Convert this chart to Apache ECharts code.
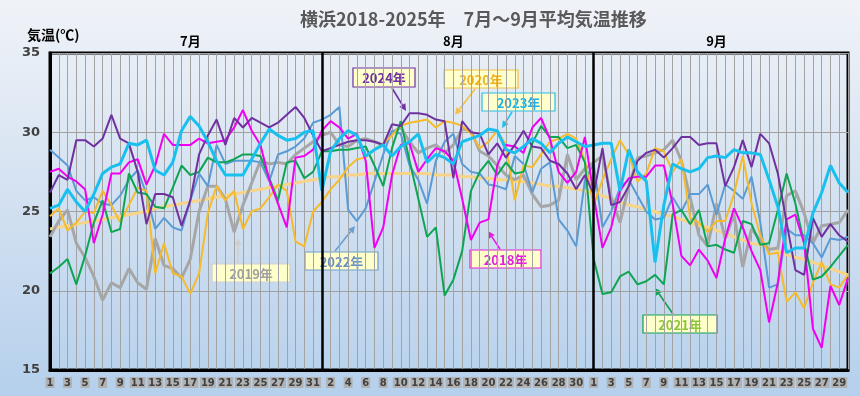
<!DOCTYPE html>
<html lang="ja">
<head>
<meta charset="UTF-8">
<title>横浜 7月～9月平均気温推移</title>
<script src="https://cdn.jsdelivr.net/npm/echarts@6/dist/echarts.min.js"></script>
<style>
  html, body { margin: 0; padding: 0; }
  #chart { width: 860px; height: 396px; }
</style>
</head>
<body>
<div id="chart"></div>
<script>
// categories: 7/1 .. 9/30
const months = [['7', 31], ['8', 31], ['9', 30]];
const dates = [];
months.forEach(([m, n]) => { for (let d = 1; d <= n; d++) dates.push(m + '/' + d); });

// daily mean temperature (℃), Jul | Aug | Sep
const t2018 = [
  27.5, 27.7, 27.2, 26.9, 26.4, 23.0, 24.8, 27.4, 27.4, 28.1, 28.3, 26.7, 27.9, 29.9, 29.2, 29.2,
  29.2, 29.6, 29.3, 29.4, 29.5, 30.3, 31.4, 30.1, 29.2, 27.0, 25.5, 24.0, 28.4, 28.5, 28.9,
  30.1, 30.7, 30.3, 29.6, 29.9, 28.2, 22.7, 24.0, 27.3, 29.2, 29.3, 27.5, 28.3, 29.0, 28.8, 28.2,
  25.8, 23.2, 24.3, 24.5, 27.9, 29.2, 29.1, 28.7, 30.3, 30.9, 29.6, 27.5, 26.8, 27.5, 29.7,
  26.0, 22.7, 24.0, 26.3, 27.1, 27.2, 27.2, 27.9, 27.9, 25.5, 22.2, 21.6, 22.6, 21.9, 20.8,
  23.3, 25.2, 24.0, 22.5, 21.3, 18.0, 20.5, 24.5, 24.8, 23.0, 17.6, 16.4, 20.3, 19.1, 20.8
];
const t2019 = [
  23.4, 24.4, 25.1, 23.0, 22.1, 20.9, 19.4, 20.5, 20.2, 21.4, 20.5, 20.1, 23.3, 21.6, 21.4, 20.8,
  22.0, 25.0, 26.6, 26.6, 25.8, 23.7, 25.4, 26.8, 28.2, 28.0, 28.1, 28.0, 28.6, 29.0, 29.4,
  29.8, 30.0, 29.2, 29.1, 29.5, 29.6, 29.4, 29.2, 30.0, 30.3, 29.4, 28.7, 29.0, 29.2, 28.7, 29.2,
  30.2, 30.1, 28.8, 28.5, 27.9, 27.3, 27.0, 27.3, 26.1, 25.3, 25.4, 25.7, 28.6, 27.0, 27.7,
  28.1, 28.5, 25.9, 24.3, 26.6, 28.4, 28.5, 28.7, 28.9, 29.5, 28.2, 25.9, 23.5, 22.8, 25.5,
  23.3, 24.8, 21.5, 23.9, 23.2, 22.6, 22.7, 26.0, 26.3, 24.9, 23.0, 24.1, 24.2, 24.3, 25.1
];
const t2020 = [
  24.7, 25.2, 23.8, 24.3, 25.0, 24.9, 26.3, 25.4, 24.3, 25.4, 26.5, 26.3, 21.1, 23.0, 21.1, 20.9,
  19.8, 21.1, 24.9, 26.6, 25.7, 26.3, 23.9, 25.0, 25.2, 25.9, 26.7, 26.3, 23.1, 22.8, 25.0,
  25.6, 26.4, 27.0, 27.8, 28.3, 28.4, 28.9, 29.3, 29.8, 30.4, 30.6, 30.7, 30.8, 30.3, 30.7, 30.6,
  30.4, 29.9, 29.0, 29.4, 30.1, 29.2, 25.7, 27.9, 27.8, 28.6, 29.4, 29.6, 29.9, 29.6, 28.2,
  25.4, 27.0, 28.3, 29.5, 28.6, 26.9, 27.4, 29.0, 28.8, 27.5, 28.3, 24.6, 24.3, 23.7, 24.4,
  24.4, 26.1, 28.5, 25.5, 23.5, 22.3, 22.4, 19.3, 19.9, 18.9, 20.5, 21.8, 20.4, 20.2, 21.0
];
const t2021 = [
  21.1, 21.5, 22.0, 20.4, 22.2, 24.3, 25.7, 23.7, 23.9, 27.4, 26.2, 26.1, 25.3, 25.2, 26.5, 27.9,
  27.3, 27.5, 28.4, 28.1, 28.1, 28.3, 28.6, 28.6, 28.5, 27.1, 25.7, 28.1, 28.2, 27.1, 27.5,
  28.8, 28.8, 28.9, 28.9, 29.0, 29.1, 27.9, 26.6, 29.0, 30.7, 28.2, 25.8, 23.4, 24.0, 19.7, 20.7,
  22.5, 26.3, 27.5, 28.2, 27.3, 28.1, 27.4, 27.5, 29.3, 30.4, 29.7, 29.7, 29.0, 29.2, 28.1,
  22.0, 19.8, 19.9, 20.9, 21.2, 20.4, 20.6, 21.0, 20.4, 24.8, 25.1, 24.2, 25.1, 22.8, 22.9,
  22.6, 22.4, 24.4, 24.2, 22.9, 23.0, 25.1, 27.4, 25.5, 23.0, 20.7, 20.9, 21.5, 22.2, 22.9
];
const t2022 = [
  28.9, 28.4, 27.9, 26.3, 25.7, 25.9, 25.5, 25.4, 26.0, 27.0, 27.6, 26.1, 23.9, 24.6, 24.0, 23.8,
  25.7, 27.4, 26.6, 29.2, 28.0, 28.2, 28.2, 28.2, 28.1, 26.9, 28.6, 28.8, 29.1, 29.6, 30.6,
  30.8, 31.1, 31.6, 25.1, 24.4, 25.2, 26.9, 28.6, 30.1, 29.9, 27.9, 27.0, 25.5, 28.2, 29.4, 29.9,
  28.0, 27.5, 27.4, 26.7, 26.6, 26.4, 28.5, 28.0, 26.2, 27.7, 28.1, 24.5, 23.8, 22.8, 27.0,
  28.0, 24.0, 25.0, 26.5, 27.0, 26.0, 25.0, 24.5, 24.6, 25.9, 25.0, 26.1, 26.1, 26.7, 24.8,
  26.7, 26.3, 25.8, 27.2, 24.3, 20.2, 20.4, 23.9, 23.5, 23.5, 23.0, 22.1, 23.3, 23.2, 23.4
];
const t2023 = [
  25.2, 25.4, 26.4, 25.6, 25.0, 26.1, 27.4, 27.8, 28.0, 29.3, 29.2, 29.5, 27.6, 27.3, 28.1, 30.1,
  31.0, 30.4, 29.4, 28.2, 27.3, 27.3, 27.3, 28.3, 29.3, 30.2, 29.8, 29.5, 29.6, 30.0, 30.1,
  26.3, 28.8, 29.6, 30.1, 29.8, 28.5, 28.9, 29.2, 28.5, 29.1, 29.4, 29.9, 28.1, 28.6, 28.4, 28.0,
  29.4, 29.6, 29.8, 30.2, 30.1, 28.9, 28.7, 29.1, 29.6, 29.3, 28.7, 29.3, 29.7, 29.4, 29.1,
  29.2, 29.3, 29.3, 26.3, 28.9, 27.5, 26.9, 21.8, 25.4, 28.0, 27.7, 27.5, 27.7, 28.4, 28.5,
  28.4, 28.9, 28.7, 28.7, 28.6, 27.0, 25.3, 22.4, 22.7, 22.7, 24.9, 26.2, 27.9, 26.8, 26.2
];
const t2024 = [
  26.2, 27.3, 27.0, 29.5, 29.5, 29.1, 29.6, 31.1, 29.6, 29.3, 27.5, 24.2, 26.1, 26.1, 25.9, 24.1,
  25.7, 28.6, 29.8, 30.8, 29.2, 30.9, 30.3, 30.9, 30.6, 30.3, 30.6, 31.1, 31.6, 30.9, 29.8,
  28.8, 29.0, 29.2, 29.4, 29.5, 29.5, 29.4, 29.2, 30.5, 30.4, 31.2, 31.2, 31.1, 30.8, 30.7, 27.1,
  30.7, 30.0, 29.9, 28.6, 29.3, 28.4, 29.2, 30.1, 29.1, 29.0, 28.2, 28.0, 27.4, 26.4, 27.3,
  26.1, 29.0, 25.4, 25.6, 26.6, 28.2, 28.7, 28.9, 28.4, 29.0, 29.7, 29.7, 29.2, 29.3, 29.3,
  26.6, 27.8, 29.5, 27.8, 29.9, 29.3, 27.4, 24.3, 21.3, 21.0, 24.6, 23.4, 24.2, 23.5, 23.1
];
// normal (平年値) curve
const normal = [
  23.9, 24.0, 24.1, 24.2, 24.3, 24.4, 24.5, 24.6, 24.7, 24.8, 24.9, 25.0, 25.2, 25.3, 25.4, 25.5,
  25.6, 25.7, 25.8, 25.9, 26.0, 26.1, 26.2, 26.3, 26.4, 26.5, 26.6, 26.7, 26.8, 26.9, 27.0,
  27.1, 27.2, 27.2, 27.3, 27.3, 27.4, 27.4, 27.4, 27.4, 27.4, 27.4, 27.4, 27.4, 27.3, 27.3, 27.3,
  27.2, 27.2, 27.1, 27.1, 27.0, 27.0, 26.9, 26.9, 26.8, 26.7, 26.6, 26.6, 26.5, 26.4, 26.3,
  26.1, 26.0, 25.8, 25.6, 25.4, 25.3, 25.1, 25.0, 24.8, 24.7, 24.5, 24.3, 24.1, 24.0, 23.8,
  23.6, 23.4, 23.2, 23.0, 22.9, 22.7, 22.5, 22.3, 22.1, 22.0, 21.8, 21.6, 21.4, 21.2, 21.0
];

const monthStarts = ['8/1', '9/1'];
const monthLabelAt = [16, 46, 76];

// annotation boxes + arrows (pixel layout)
const notes = [
  { text: '2024年', box: [353, 68, 62, 19], line: '#7030a0', ink: '#7030a0', from: [392, 88], to: [406, 111] },
  { text: '2020年', box: [444, 70, 74, 18], line: '#f5c242', ink: '#f0b020', from: [475, 89], to: [455, 115] },
  { text: '2023年', box: [482, 93, 73, 18], line: '#20c0f0', ink: '#20b0e8', from: [512, 112], to: [502, 128] },
  { text: '2019年', box: [212, 264, 78, 18], line: '#cfcfcf', ink: '#a0a0a0', from: [238, 263], to: [238, 238] },
  { text: '2022年', box: [305, 252, 73, 18], line: '#6a9fd0', ink: '#6a90c0', from: [335, 251], to: [355, 226] },
  { text: '2018年', box: [470, 250, 71, 18], line: '#e020e0', ink: '#e020e0', from: [500, 249], to: [488, 231] },
  { text: '2021年', box: [643, 315, 74, 18], line: '#10a050', ink: '#8cc63f', from: [673, 314], to: [655, 288] }
];

function arrow(x1, y1, x2, y2, color) {
  const a = Math.atan2(y2 - y1, x2 - x1), L = 7, W = 3.5;
  const bx = x2 - L * Math.cos(a), by = y2 - L * Math.sin(a);
  return {
    type: 'group', silent: true, children: [
      { type: 'line', shape: { x1: x1, y1: y1, x2: bx, y2: by }, style: { stroke: color, lineWidth: 1.6 } },
      { type: 'polygon', shape: { points: [[x2, y2], [bx - W * Math.sin(a), by + W * Math.cos(a)], [bx + W * Math.sin(a), by - W * Math.cos(a)]] }, style: { fill: color } }
    ]
  };
}

const graphics = [
  { type: 'text', left: 27, top: 28, style: { text: '気温(℃)', fill: '#000', font: 'bold 14px "Noto Sans CJK JP"' } }
];
notes.forEach(n => {
  const [x, y, w, h] = n.box;
  graphics.push(arrow(n.from[0], n.from[1], n.to[0], n.to[1], n.line));
  graphics.push({
    type: 'group', silent: true, children: [
      { type: 'rect', shape: { x: x, y: y, width: w, height: h }, style: { fill: '#ffffcc', stroke: n.line, lineWidth: 1.2 } },
      { type: 'text', x: x + w / 2, y: y + h / 2 + 1, style: { text: n.text, fill: n.ink, font: 'bold 13px "Noto Sans CJK JP"', align: 'center', verticalAlign: 'middle' } }
    ]
  });
});

function line(name, data, color, width) {
  return {
    name: name, type: 'line', data: data, symbol: 'none', showSymbol: false,
    lineStyle: { color: color, width: width }, itemStyle: { color: color }, z: 3
  };
}

const series = [
  line('平年', normal, '#f8d488', 3),
  line('2019年', t2019, '#a6a6a6', 3),
  line('2022年', t2022, '#5b9bd5', 2),
  line('2020年', t2020, '#f5bb2a', 2),
  line('2021年', t2021, '#0ea552', 2),
  line('2018年', t2018, '#f000f0', 2),
  line('2024年', t2024, '#7030a0', 2),
  line('2023年', t2023, '#18c0f0', 3)
];
series[0].markLine = {
  silent: true, symbol: 'none', label: { show: false },
  lineStyle: { color: '#000', width: 2.5, type: 'solid' },
  data: monthStarts.map(d => ({ xAxis: d }))
};

const chart = echarts.init(document.getElementById('chart'));
chart.setOption({
  animation: false,
  backgroundColor: {
    type: 'linear', x: 0, y: 0, x2: 0, y2: 1,
    colorStops: [{ offset: 0, color: '#f0f3f8' }, { offset: 0.5, color: '#d3e1f1' }, { offset: 1, color: '#b5d0ec' }]
  },
  title: {
    text: '横浜2018-2025年　7月～9月平均気温推移', left: 295, top: 5,
    textStyle: { color: '#595959', fontSize: 18, fontWeight: 'bold', fontFamily: 'Noto Sans CJK JP' }
  },
  grid: { left: 50, right: 12, top: 53, bottom: 26, show: true, borderColor: '#000', borderWidth: 3, backgroundColor: 'transparent' },
  xAxis: [{
    type: 'category', data: dates, boundaryGap: false,
    axisLine: { lineStyle: { color: '#000', width: 3 } },
    axisTick: { show: false },
    axisLabel: {
      interval: 1, formatter: v => v.split('/')[1], margin: 7,
      color: '#404040', backgroundColor: '#b2b2b2', padding: [1, 1, 0, 1],
      fontSize: 10, fontWeight: 'bold', fontFamily: 'DejaVu Sans'
    },
    splitLine: { show: true, interval: 0, lineStyle: { color: '#a3a3a3', width: 1 } }
  }, {
    type: 'category', data: dates, boundaryGap: false, position: 'top',
    axisLine: { show: false }, axisTick: { show: false }, splitLine: { show: false },
    axisLabel: {
      interval: i => monthLabelAt.includes(i), formatter: v => v.split('/')[0] + '月',
      margin: 5, color: '#000', fontSize: 13, fontWeight: 'bold', fontFamily: 'Noto Sans CJK JP'
    }
  }],
  yAxis: {
    type: 'value', min: 15, max: 35, interval: 5,
    axisLine: { show: true, lineStyle: { color: '#000', width: 3 } },
    axisTick: { show: false },
    axisLabel: { color: '#404040', fontSize: 13, fontWeight: 'bold', fontFamily: 'DejaVu Sans', margin: 10 },
    splitLine: { lineStyle: { color: '#a0a0a0', width: 1 } }
  },
  series: series,
  graphic: graphics
});
</script>
</body>
</html>
